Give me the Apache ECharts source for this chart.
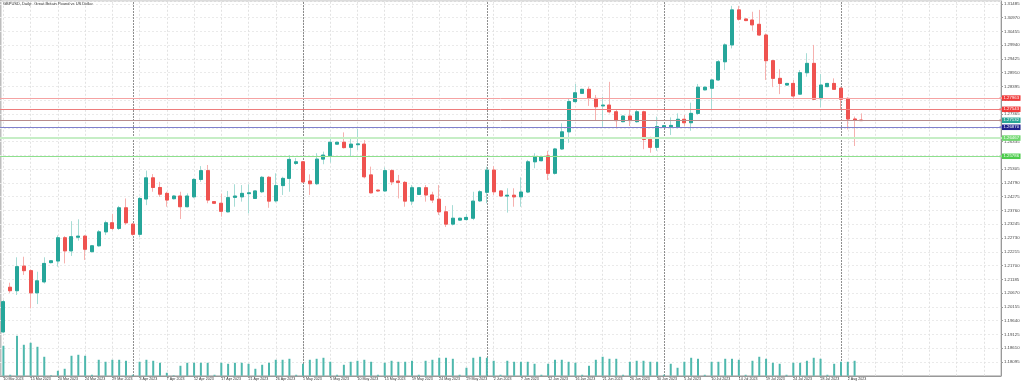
<!DOCTYPE html>
<html><head><meta charset="utf-8">
<script src="https://cdn.jsdelivr.net/npm/echarts@6/dist/echarts.min.js"></script>
<style>html,body{margin:0;padding:0;background:#fff}#c{width:1024px;height:384px}</style>
</head><body><div id="c"></div>
<script>
const titleText = 'GBPUSD, Daily:  Great Britain Pound vs US Dollar';
const categories = [
'10 Mar 2023','12 Mar 2023','13 Mar 2023','14 Mar 2023','15 Mar 2023','16 Mar 2023','17 Mar 2023','19 Mar 2023','20 Mar 2023','21 Mar 2023',
'22 Mar 2023','23 Mar 2023','24 Mar 2023','26 Mar 2023','27 Mar 2023','28 Mar 2023','29 Mar 2023','30 Mar 2023','31 Mar 2023','2 Apr 2023',
'3 Apr 2023','4 Apr 2023','5 Apr 2023','6 Apr 2023','7 Apr 2023','9 Apr 2023','10 Apr 2023','11 Apr 2023','12 Apr 2023','13 Apr 2023',
'14 Apr 2023','16 Apr 2023','17 Apr 2023','18 Apr 2023','19 Apr 2023','20 Apr 2023','21 Apr 2023','23 Apr 2023','24 Apr 2023','25 Apr 2023',
'26 Apr 2023','27 Apr 2023','28 Apr 2023','30 Apr 2023','1 May 2023','2 May 2023','3 May 2023','4 May 2023','5 May 2023','7 May 2023',
'8 May 2023','9 May 2023','10 May 2023','11 May 2023','12 May 2023','14 May 2023','15 May 2023','16 May 2023','17 May 2023','18 May 2023',
'19 May 2023','21 May 2023','22 May 2023','23 May 2023','24 May 2023','25 May 2023','26 May 2023','28 May 2023','29 May 2023','30 May 2023',
'31 May 2023','1 Jun 2023','2 Jun 2023','4 Jun 2023','5 Jun 2023','6 Jun 2023','7 Jun 2023','8 Jun 2023','9 Jun 2023','11 Jun 2023',
'12 Jun 2023','13 Jun 2023','14 Jun 2023','15 Jun 2023','16 Jun 2023','18 Jun 2023','19 Jun 2023','20 Jun 2023','21 Jun 2023','22 Jun 2023',
'23 Jun 2023','25 Jun 2023','26 Jun 2023','27 Jun 2023','28 Jun 2023','29 Jun 2023','30 Jun 2023','2 Jul 2023','3 Jul 2023','4 Jul 2023',
'5 Jul 2023','6 Jul 2023','7 Jul 2023','9 Jul 2023','10 Jul 2023','11 Jul 2023','12 Jul 2023','13 Jul 2023','14 Jul 2023','16 Jul 2023',
'17 Jul 2023','18 Jul 2023','19 Jul 2023','20 Jul 2023','21 Jul 2023','23 Jul 2023','24 Jul 2023','25 Jul 2023','26 Jul 2023','27 Jul 2023',
'28 Jul 2023','30 Jul 2023','31 Jul 2023','1 Aug 2023','2 Aug 2023','3 Aug 2023','4 Aug 2023'];
const opens = [
1.1922,1.2089,1.2076,1.2168,1.2151,1.2068,1.2109,1.2181,1.2187,1.2274,
1.2225,1.2276,1.2280,1.2222,1.2244,1.2296,1.2330,1.2309,1.2386,1.2325,
1.2287,1.2419,1.2498,1.2462,1.2440,1.2420,1.2430,1.2390,1.2427,1.2492,
1.2525,1.2409,1.2403,1.2371,1.2425,1.2427,1.2439,1.2421,1.2446,1.2500,
1.2412,1.2469,1.2496,1.2552,1.2558,1.2486,1.2476,1.2568,1.2581,1.2624,
1.2631,1.2612,1.2622,1.2624,1.2509,1.2452,1.2449,1.2525,1.2486,1.2481,
1.2411,1.2436,1.2461,1.2434,1.2418,1.2371,1.2325,1.2340,1.2342,1.2347,
1.2412,1.2444,1.2527,1.2449,1.2430,1.2433,1.2427,1.2445,1.2558,1.2562,
1.2580,1.2515,1.2606,1.2670,1.2783,1.2814,1.2829,1.2795,1.2767,1.2770,
1.2745,1.2708,1.2729,1.2708,1.2745,1.2642,1.2612,1.2687,1.2689,1.2687,
1.2717,1.2704,1.2739,1.2827,1.2833,1.2864,1.2932,1.2995,1.3126,1.3092,
1.3088,1.3072,1.3032,1.2936,1.2870,1.2845,1.2851,1.2811,1.2891,1.2926,
1.2794,1.2839,1.2851,1.2833,1.2795,1.2718,1.2714];
const closes = [
1.2035,1.2076,1.2166,1.2151,1.2068,1.2113,1.2178,1.2188,1.2274,1.2225,
1.2278,1.2280,1.2231,1.2244,1.2296,1.2330,1.2309,1.2386,1.2330,1.2287,
1.2421,1.2498,1.2462,1.2437,1.2415,1.2430,1.2390,1.2430,1.2492,1.2525,
1.2415,1.2403,1.2373,1.2424,1.2430,1.2440,1.2442,1.2449,1.2500,1.2411,
1.2469,1.2496,1.2567,1.2558,1.2483,1.2476,1.2568,1.2583,1.2631,1.2631,
1.2611,1.2624,1.2625,1.2502,1.2442,1.2449,1.2525,1.2483,1.2481,1.2411,
1.2461,1.2461,1.2434,1.2415,1.2371,1.2325,1.2347,1.2347,1.2350,1.2411,
1.2446,1.2527,1.2446,1.2430,1.2433,1.2427,1.2445,1.2558,1.2577,1.2577,
1.2515,1.2606,1.2670,1.2783,1.2816,1.2829,1.2795,1.2764,1.2770,1.2745,
1.2712,1.2729,1.2712,1.2745,1.2642,1.2612,1.2690,1.2693,1.2694,1.2717,
1.2704,1.2739,1.2837,1.2837,1.2864,1.2932,1.2995,1.3126,1.3091,1.3086,
1.3070,1.3032,1.2936,1.2870,1.2851,1.2851,1.2804,1.2891,1.2926,1.2792,
1.2845,1.2851,1.2829,1.2792,1.2718,1.2714,1.2712];
const lows = [
1.1918,1.2068,1.2060,1.2135,1.2010,1.2026,1.2103,1.2178,1.2166,1.2178,
1.2206,1.2263,1.2191,1.2219,1.2240,1.2284,1.2303,1.2303,1.2322,1.2282,
1.2276,1.2396,1.2446,1.2427,1.2390,1.2417,1.2344,1.2388,1.2422,1.2483,
1.2403,1.2400,1.2353,1.2369,1.2390,1.2409,1.2365,1.2419,1.2441,1.2386,
1.2406,1.2434,1.2446,1.2546,1.2479,1.2434,1.2471,1.2549,1.2555,1.2622,
1.2608,1.2577,1.2602,1.2496,1.2440,1.2446,1.2446,1.2471,1.2421,1.2390,
1.2396,1.2434,1.2409,1.2404,1.2359,1.2314,1.2320,1.2338,1.2338,1.2340,
1.2408,1.2403,1.2434,1.2428,1.2368,1.2390,1.2390,1.2441,1.2534,1.2560,
1.2490,1.2510,1.2602,1.2629,1.2777,1.2812,1.2767,1.2714,1.2689,1.2739,
1.2683,1.2706,1.2692,1.2704,1.2605,1.2592,1.2599,1.2685,1.2658,1.2683,
1.2692,1.2674,1.2733,1.2825,1.2752,1.2861,1.2901,1.2982,1.3086,1.3084,
1.3048,1.3029,1.2864,1.2837,1.2811,1.2843,1.2795,1.2809,1.2876,1.2789,
1.2762,1.2837,1.2827,1.2752,1.2679,1.2617,1.2711];
const highs = [
1.2041,1.2106,1.2201,1.2203,1.2156,1.2147,1.2201,1.2190,1.2283,1.2280,
1.2336,1.2343,1.2284,1.2247,1.2303,1.2338,1.2363,1.2393,1.2421,1.2329,
1.2427,1.2525,1.2512,1.2483,1.2446,1.2433,1.2446,1.2440,1.2497,1.2542,
1.2546,1.2411,1.2439,1.2449,1.2474,1.2471,1.2474,1.2451,1.2505,1.2505,
1.2515,1.2502,1.2583,1.2572,1.2561,1.2511,1.2590,1.2596,1.2652,1.2632,
1.2668,1.2648,1.2681,1.2639,1.2540,1.2454,1.2537,1.2530,1.2509,1.2486,
1.2471,1.2463,1.2471,1.2446,1.2471,1.2393,1.2396,1.2349,1.2363,1.2446,
1.2452,1.2540,1.2542,1.2451,1.2459,1.2459,1.2500,1.2565,1.2590,1.2579,
1.2599,1.2610,1.2702,1.2795,1.2849,1.2831,1.2839,1.2808,1.2801,1.2857,
1.2752,1.2731,1.2752,1.2754,1.2749,1.2652,1.2727,1.2695,1.2724,1.2739,
1.2733,1.2779,1.2849,1.2839,1.2866,1.2939,1.3001,1.3141,1.3141,1.3094,
1.3119,1.3126,1.3038,1.2939,1.2904,1.2853,1.2864,1.2901,1.2964,1.2995,
1.2886,1.2853,1.2870,1.2837,1.2799,1.2727,1.2739];
const volumes = [
150000,5000,200000,155000,165000,145000,95000,2500,25000,35000,
100000,105000,100000,5000,80000,70000,80000,80000,75000,5000,
70000,80000,75000,65000,15000,2500,50000,65000,65000,65000,
65000,5000,65000,60000,65000,65000,60000,35000,55000,65000,
80000,80000,85000,5000,60000,80000,85000,90000,70000,5000,
55000,70000,75000,80000,70000,5000,65000,75000,70000,70000,
75000,5000,75000,80000,90000,90000,85000,5000,40000,90000,
95000,90000,75000,5000,75000,70000,70000,70000,60000,5000,
60000,80000,80000,70000,65000,5000,50000,80000,95000,85000,
85000,5000,70000,75000,75000,70000,70000,5000,60000,40000,
70000,90000,85000,5000,70000,70000,85000,85000,80000,5000,
75000,95000,85000,65000,60000,5000,65000,65000,75000,90000,
85000,5000,60000,70000,70000,75000,0];
const futureSlots = 20;
const periodStarts = ['2 Apr 2023','1 May 2023','1 Jun 2023','2 Jul 2023','1 Aug 2023'];
const levelValues = [1.27963, 1.27543, 1.27132, 1.26870, 1.26467, 1.25786];
const levelLineColors = ['#f5a3a3', '#ee7d7d', '#b88c8c', '#8080cc', '#c6eec6', '#8ee08e'];
const levelTagColors = ['#f03a3a', '#f03a3a', '#2aa596', '#22228c', '#6fd86f', '#4ccc4c'];
const levelWidths = [1, 1, 1, 1, 2, 1];
const yTickStart = 1.17580, yTickStep = 0.00515, yTop = 1.31592;
const labelEvery = 4;

const allCats = categories.concat(Array.from({length: futureSlots}, (_, k) => 'f' + k));
const nReal = categories.length;
const wickData = opens.map((o, i) => [o, closes[i], lows[i], highs[i]]);
const bodyData = opens.map((o, i) => [o, closes[i], Math.min(o, closes[i]), Math.max(o, closes[i])]);
const showLab = i => i % labelEvery === 0 && i < nReal;
const vgrid = allCats.filter((c, i) => i % labelEvery === 0).map(c => ({xAxis: c}));
const FONT = 'Liberation Sans';

const chart = echarts.init(document.getElementById('c'));
chart.setOption({
  animation: false,
  backgroundColor: '#ffffff',
  title: {text: titleText, left: 3, top: 2, padding: 0,
    textStyle: {fontSize: 4, fontWeight: 'normal', color: '#333', fontFamily: FONT}},
  grid: {left: -2.9, right: 23, top: 1, bottom: 8.23, show: true, borderColor: '#b8b8b8', borderWidth: 1},
  graphic: [{type: 'rect', left: 0, top: 0, shape: {width: 1.5, height: 376}, style: {fill: '#bdbdbd'}, silent: true}],
  xAxis: [{
    type: 'category', data: allCats, boundaryGap: true,
    axisLine: {lineStyle: {color: '#999'}},
    axisTick: {show: true, alignWithLabel: true, interval: (i) => showLab(i), length: 2, lineStyle: {color: '#999'}},
    axisLabel: {interval: (i) => showLab(i), align: 'left', fontSize: 3.6, color: '#333', margin: 1.5, fontFamily: FONT, hideOverlap: false},
    splitLine: {show: false}
  }],
  yAxis: [{
    type: 'value', position: 'right', min: yTickStart, max: yTop, interval: yTickStep,
    axisLine: {show: true, lineStyle: {color: '#999'}},
    axisTick: {show: true, length: 2, lineStyle: {color: '#999'}},
    axisLabel: {fontSize: 4.3, color: '#444', margin: 3, fontFamily: FONT,
      showMinLabel: false, showMaxLabel: false, formatter: v => v.toFixed(5)},
    splitLine: {show: true, lineStyle: {color: '#eaeaea', type: [2, 2]}}
  }, {
    type: 'value', min: 0, max: 1873850, show: false, splitLine: {show: false}
  }],
  series: [{
    type: 'bar', yAxisIndex: 1, data: volumes, barWidth: 2,
    itemStyle: {color: '#4fb8ad'}, silent: true, z: 2,
    markLine: {silent: true, symbol: 'none', animation: false, z: 0, precision: 5,
      label: {show: false},
      lineStyle: {color: '#e2e2e2', type: [2, 2], width: 1},
      data: vgrid}
  }, {
    type: 'candlestick', data: wickData, barWidth: 3.5, z: 3,
    itemStyle: {color: '#a6dcd5', color0: '#f6b1af', borderColor: '#a6dcd5', borderColor0: '#f6b1af', borderWidth: 1},
    markLine: {silent: true, symbol: 'none', animation: false, z: 1, precision: 5,
      label: {show: false},
      lineStyle: {color: '#6a6a6a', type: [1.5, 1.5], width: 1},
      data: periodStarts.map(d => ({xAxis: d}))}
  }, {
    type: 'candlestick', data: bodyData, barWidth: 3.5, z: 4,
    itemStyle: {color: '#26a69a', color0: '#ef5350', borderColor: '#26a69a', borderColor0: '#ef5350', borderWidth: 1},
    markLine: {silent: true, symbol: ['none', 'rect'], symbolSize: [2, 3], animation: false, precision: 5, z: 6,
      data: levelValues.map((v, i) => ({
        yAxis: v,
        lineStyle: {color: levelLineColors[i], type: 'solid', width: levelWidths[i]},
        itemStyle: {color: levelTagColors[i]},
        label: {show: true, position: 'end', distance: 1, formatter: () => v.toFixed(5),
          backgroundColor: levelTagColors[i], color: '#fff', fontSize: 4.3, fontFamily: FONT,
          padding: [0.5, 1.5, 0, 1.5], lineHeight: 5}
      }))}
  }]
});
</script></body></html>
